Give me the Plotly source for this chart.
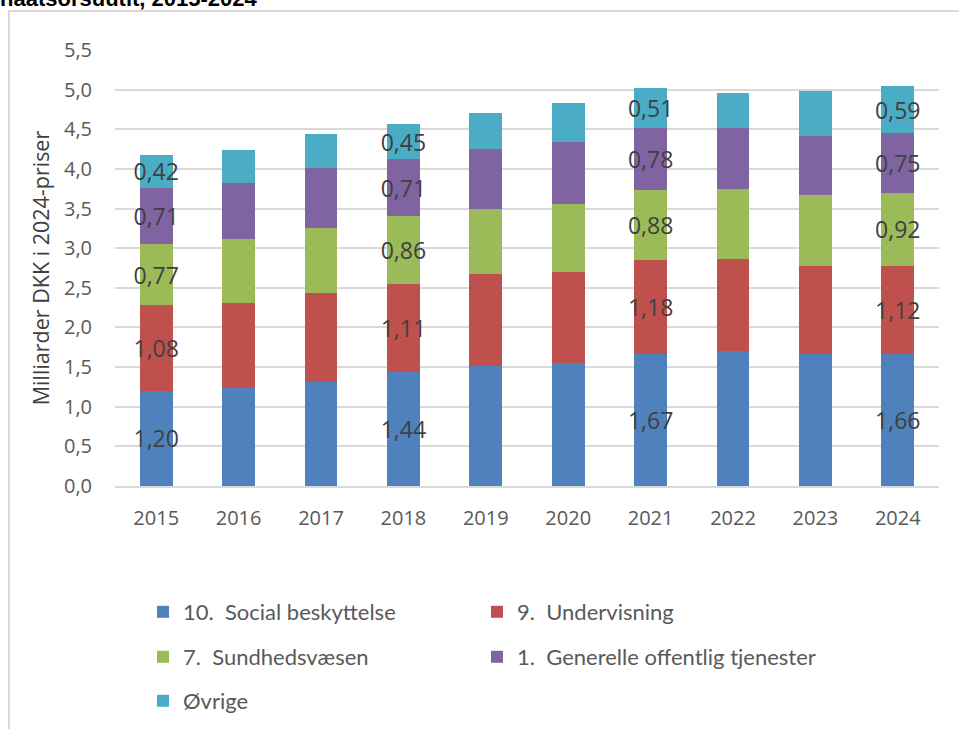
import plotly.graph_objects as go

years = ["2015", "2016", "2017", "2018", "2019", "2020", "2021", "2022", "2023", "2024"]

social = [1.20, 1.23, 1.31, 1.44, 1.52, 1.55, 1.67, 1.70, 1.67, 1.66]
undervisning = [1.08, 1.08, 1.12, 1.11, 1.15, 1.15, 1.18, 1.16, 1.11, 1.12]
sundhed = [0.77, 0.80, 0.82, 0.86, 0.82, 0.86, 0.88, 0.89, 0.89, 0.92]
generelle = [0.71, 0.71, 0.76, 0.71, 0.76, 0.78, 0.78, 0.76, 0.75, 0.75]
oevrige = [0.42, 0.42, 0.43, 0.45, 0.46, 0.49, 0.51, 0.45, 0.56, 0.59]

series_names = [
    "10.  Social beskyttelse",
    "9.  Undervisning",
    "7.  Sundhedsvæsen",
    "1.  Generelle offentlig tjenester",
    "Øvrige",
]
colors = ["#4f81bd", "#c0504d", "#9bbb59", "#8064a2", "#4bacc6"]
legend_ids = ["legend", "legend2", "legend3", "legend4", "legend5"]

# kun hvert tredje år har dataetiketter
labelled_years = ["2015", "2018", "2021", "2024"]

W, H = 959, 729
L, R, T, B = 115, 20, 50, 243
pw, ph = W - L - R, H - T - B


def px_x(p):
    return (p - L) / pw


def px_y(p):
    return 1 - (p - T) / ph


fig = go.Figure()

for name, values, color, leg in zip(
    series_names, [social, undervisning, sundhed, generelle, oevrige], colors, legend_ids
):
    texts = [f"{v:.2f}".replace(".", ",") if y in labelled_years else "" for y, v in zip(years, values)]
    fig.add_trace(go.Bar(
        x=years,
        y=values,
        name=name,
        marker=dict(color=color, line=dict(width=0)),
        text=texts,
        texttemplate="%{text}",
        textposition="inside",
        insidetextanchor="middle",
        textangle=0,
        constraintext="none",
        textfont=dict(family="Open Sans, DejaVu Sans", size=23, color="#404040"),
        legend=leg,
        hoverinfo="x+y+name",
    ))

legend_font = dict(family="Liberation Sans Narrow, Lato, Arial", size=22, color="#595959")


def legend_box(xpix, ypix):
    return dict(
        x=px_x(xpix), y=px_y(ypix), xanchor="left", yanchor="top",
        font=legend_font, itemwidth=30, bgcolor="rgba(0,0,0,0)",
    )


fig.update_layout(
    width=W,
    height=H,
    barmode="stack",
    bargap=0.6,
    separators=",.",
    paper_bgcolor="white",
    plot_bgcolor="white",
    margin=dict(l=L, r=R, t=T, b=B, autoexpand=False),
    xaxis=dict(
        showgrid=False,
        showline=True,
        linecolor="#d9d9d9",
        linewidth=2,
        ticks="",
        ticklabelstandoff=13,
        tickfont=dict(family="Open Sans, DejaVu Sans", size=20, color="#595959"),
        fixedrange=True,
    ),
    yaxis=dict(
        range=[0, 5.5],
        dtick=0.5,
        tickformat=".1f",
        showgrid=True,
        gridcolor="#d9d9d9",
        gridwidth=2,
        zeroline=False,
        ticks="",
        ticklabelstandoff=22,
        tickfont=dict(family="Open Sans, DejaVu Sans", size=20, color="#595959"),
        title=dict(
            text="Milliarder DKK i 2024-priser",
            font=dict(family="Open Sans, DejaVu Sans", size=21.5, color="#404040"),
            standoff=8,
        ),
        fixedrange=True,
    ),
    legend=legend_box(143, 591),
    legend2=legend_box(477, 591),
    legend3=legend_box(143, 636),
    legend4=legend_box(477, 636),
    legend5=legend_box(143, 680),
    showlegend=True,
)

# ramme om diagrammet (beskåret som i originalen)
fig.add_shape(
    type="rect", xref="paper", yref="paper",
    x0=px_x(9), x1=px_x(W + 20), y0=px_y(H + 20), y1=px_y(11),
    line=dict(color="#d9d9d9", width=2), fillcolor="rgba(0,0,0,0)", layer="below",
)

# overskrift, kun nederste halvdel er synlig
fig.add_annotation(
    text="<b>naatsorsuutit, 2015-2024</b>",
    xref="paper", yref="paper", x=px_x(-2), y=px_y(-2),
    xanchor="left", yanchor="middle", showarrow=False,
    font=dict(family="Liberation Sans, Arial", size=22, color="#000000"),
)

fig.write_html(
    "out.html",
    config={"displayModeBar": False},
    post_script="document.body.style.margin='0';",
)
